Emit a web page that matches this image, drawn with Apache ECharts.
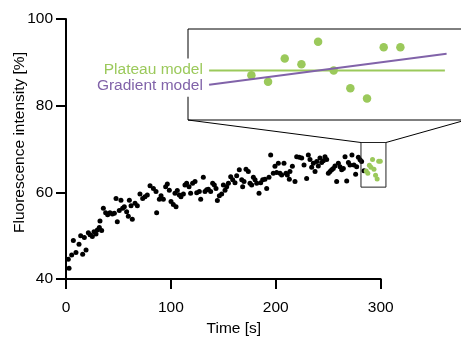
<!DOCTYPE html>
<html>
<head>
<meta charset="utf-8">
<script src="https://cdn.jsdelivr.net/npm/echarts@6/dist/echarts.min.js"></script>
<style>html,body{margin:0;padding:0;background:#fff}#c{width:461px;height:343px}</style>
</head>
<body>
<div id="c"></div>
<script>
// Black (fitted-range excluded) measurements: time [s] and intensity [%]
const blackTime = [2.2,2.9,5.4,7.0,9.5,12.4,14.0,15.9,17.5,19.1,21.3,22.9,25.1,26.7,28.6,29.9,31.8,32.4,34.0,35.6,37.8,39.7,41.9,44.2,46.1,47.7,48.9,50.8,52.4,54.0,55.6,57.8,59.4,60.4,62.0,63.2,65.8,68.0,70.5,73.1,75.3,77.5,80.1,83.3,85.8,86.4,89.0,90.6,92.8,95.0,96.6,98.5,100.1,102.3,103.9,104.9,106.1,108.0,109.6,111.9,113.4,115.0,117.3,118.8,120.7,123.0,124.6,127.1,128.4,130.9,132.5,134.1,135.7,137.9,139.8,141.4,143.0,144.3,146.2,148.4,150.0,151.6,153.2,154.8,157.0,158.9,161.1,162.7,165.2,167.5,168.4,169.7,171.6,173.8,175.4,177.0,178.6,180.2,181.8,184.0,185.6,187.5,189.7,191.3,193.5,195.1,197.6,199.2,200.8,202.4,204.0,205.6,207.8,209.7,211.0,212.9,213.5,215.8,218.3,219.9,222.4,224.7,226.9,229.4,231.0,232.6,234.2,235.8,237.4,239.0,240.5,242.1,243.7,245.3,246.9,248.5,250.1,251.7,253.3,254.8,256.4,258.0,259.6,261.2,262.8,264.4,266.0,267.6,269.2,270.7,272.6,274.5,276.1,277.1,278.7,280.3,281.8,284.1];
const blackValue = [44.55,42.5,45.55,48.9,46.1,48.0,50.0,45.7,49.6,46.7,50.7,50.2,49.8,50.9,50.4,51.3,51.9,53.4,51.2,56.3,55.3,54.8,55.3,55.0,55.2,58.6,53.2,55.8,58.2,56.3,56.7,55.5,54.5,58.2,56.9,53.8,57.5,56.9,59.6,58.6,59.0,59.4,61.5,60.9,60.2,55.3,58.4,59.2,58.4,61.3,61.9,60.5,57.9,57.2,59.8,56.7,60.4,59.4,59.0,59.6,61.7,62.1,61.3,59.8,62.1,62.5,59.9,60.2,58.4,63.5,60.2,60.6,60.7,60.2,62.1,61.7,60.9,58.1,59.2,59.6,61.7,60.5,61.3,62.1,63.6,62.9,62.2,63.8,65.2,62.9,61.3,62.5,65.3,64.8,62.1,61.7,63.5,62.9,62.1,59.8,62.2,62.9,63.0,60.9,63.5,68.6,64.4,66.0,64.6,66.7,64.4,64.0,66.7,64.4,64.0,63.0,64.8,66.0,62.5,68.2,68.1,67.9,66.3,63.2,68.6,67.6,65.8,66.7,64.8,67.1,66.1,67.9,66.9,67.3,68.2,67.6,64.4,64.8,65.2,65.5,66.1,62.5,66.7,65.9,65.2,65.5,68.2,62.6,66.9,66.3,68.6,66.3,64.2,65.9,68.1,67.5,67.1,65.0];
// Green (fitted) measurements
const greenTime = [286.2,287.7,289.2,290.7,292.2,293.6,295.1,296.6,298.1,299.6];
const greenValue = [64.95,64.42,66.26,65.81,67.6,65.31,63.92,63.1,67.16,67.16];
// Model lines in the inset: [start, end]
const plateauTime = [282.4, 303.6];
const plateauValue = [65.31, 65.31];
const gradientTime = [282.4, 303.75];
const gradientValue = [64.18, 66.65];
// Main axes
const xTicks = [0, 100, 200, 300];
const yTicks = [40, 60, 80, 100];
// Zoom window (small box on main plot) and inset ranges
const zoomBoxTime = [281.2, 305];
const zoomBoxValue = [61.2, 71.5];
const insetTime = [280.5, 305.5];
const insetValue = [61.4, 68.6];

const GREEN = '#9bc95b';
const PURPLE = '#8163a9';
const FONT = 'Liberation Sans, Arial, Helvetica, sans-serif';

const pairs = (xs, ys) => xs.map((x, i) => [x, ys[i]]);

const chart = echarts.init(document.getElementById('c'), null, {renderer: 'canvas'});

function lineItems(xs, ys, name, color, labelOffset) {
  return xs.map((x, i) => {
    const item = {value: [x, ys[i]]};
    if (i === 0) {
      item.label = {
        show: true, position: 'left', distance: 2, formatter: name,
        color: color, fontSize: 15.5, fontFamily: FONT,
        backgroundColor: '#fff', padding: [3, 4, 3, 4], offset: labelOffset
      };
    }
    return item;
  });
}

chart.setOption({
  animation: false,
  grid: [
    {left: 66, right: 80.3, top: 19, bottom: 64, containLabel: false, outerBoundsMode: 'none'},
    {left: 188, top: 29, width: 278, height: 91, show: true, borderColor: '#000', borderWidth: 1,
     backgroundColor: '#fff', containLabel: false, outerBoundsMode: 'none'}
  ],
  xAxis: [
    {
      type: 'value', gridIndex: 0, min: xTicks[0], max: xTicks[xTicks.length - 1], interval: 100,
      name: 'Time [s]', nameLocation: 'middle', nameGap: 42, nameMoveOverlap: false,
      nameTextStyle: {fontSize: 15.5, color: '#000', fontFamily: FONT, padding: [0, 0, 0, 21]},
      axisLine: {lineStyle: {color: '#000', width: 2}},
      axisTick: {show: true, length: 10, lineStyle: {color: '#000', width: 2}},
      axisLabel: {margin: 21, fontSize: 15.5, color: '#000', fontFamily: FONT},
      splitLine: {show: false}
    },
    {type: 'value', gridIndex: 1, min: insetTime[0], max: insetTime[1], show: false, splitLine: {show: false}}
  ],
  yAxis: [
    {
      type: 'value', gridIndex: 0, min: yTicks[0], max: yTicks[yTicks.length - 1], interval: 20,
      name: 'Fluorescence intensity [%]', nameLocation: 'middle', nameGap: 38, nameMoveOverlap: false,
      nameTextStyle: {fontSize: 15.5, color: '#000', fontFamily: FONT, padding: [0, 0, 0, 13]},
      axisLine: {show: true, lineStyle: {color: '#000', width: 2}},
      axisTick: {show: true, length: 10, lineStyle: {color: '#000', width: 2}},
      axisLabel: {margin: 13, fontSize: 15.5, color: '#000', fontFamily: FONT},
      splitLine: {show: false}
    },
    {type: 'value', gridIndex: 1, min: insetValue[0], max: insetValue[1], show: false, splitLine: {show: false}}
  ],
  series: [
    {
      type: 'scatter', xAxisIndex: 0, yAxisIndex: 0, symbolSize: 5, clip: false,
      itemStyle: {color: '#000', opacity: 1}, data: pairs(blackTime, blackValue)
    },
    {
      type: 'scatter', xAxisIndex: 0, yAxisIndex: 0, symbolSize: 5, clip: false,
      itemStyle: {color: GREEN, opacity: 1}, data: pairs(greenTime, greenValue)
    },
    {
      type: 'scatter', xAxisIndex: 1, yAxisIndex: 1, symbolSize: 8.5,
      itemStyle: {color: GREEN, opacity: 1}, data: pairs(greenTime, greenValue), z: 3
    },
    {
      type: 'line', xAxisIndex: 1, yAxisIndex: 1, symbol: 'circle', symbolSize: 0.5,
      lineStyle: {color: GREEN, width: 2}, itemStyle: {color: GREEN},
      data: lineItems(plateauTime, plateauValue, 'Plateau model', GREEN, [0, -1]), z: 4
    },
    {
      type: 'line', xAxisIndex: 1, yAxisIndex: 1, symbol: 'circle', symbolSize: 0.5,
      lineStyle: {color: PURPLE, width: 2}, itemStyle: {color: PURPLE},
      data: lineItems(gradientTime, gradientValue, 'Gradient model', PURPLE, [0, 1]), z: 4
    }
  ]
});

// Zoom box and connector lines, positioned through the library's scales
const bTL = chart.convertToPixel({gridIndex: 0}, [zoomBoxTime[0], zoomBoxValue[1]]);
const bBR = chart.convertToPixel({gridIndex: 0}, [zoomBoxTime[1], zoomBoxValue[0]]);
const iBL = chart.convertToPixel({gridIndex: 1}, [insetTime[0], insetValue[0]]);
const iBR = chart.convertToPixel({gridIndex: 1}, [insetTime[1], insetValue[0]]);
chart.setOption({
  graphic: [
    {type: 'rect', shape: {x: bTL[0], y: bTL[1], width: bBR[0] - bTL[0], height: bBR[1] - bTL[1]},
     style: {fill: 'none', stroke: '#222', lineWidth: 1}, z: 10},
    {type: 'line', shape: {x1: bTL[0], y1: bTL[1], x2: iBL[0], y2: iBL[1]}, style: {stroke: '#000', lineWidth: 1}, z: 10},
    {type: 'line', shape: {x1: bBR[0], y1: bTL[1], x2: iBR[0], y2: iBR[1]}, style: {stroke: '#000', lineWidth: 1}, z: 10}
  ]
});
</script>
</body>
</html>
